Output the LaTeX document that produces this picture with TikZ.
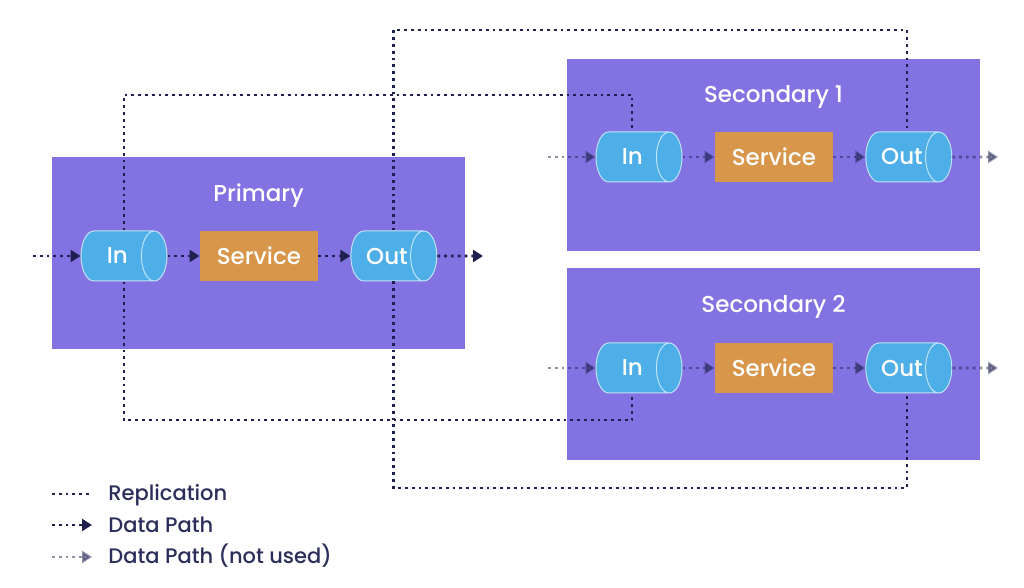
\documentclass[tikz,border=0pt]{standalone}
\usepackage{fontspec}
\setmainfont{Poppins Medium}
\usetikzlibrary{shapes.geometric,arrows.meta,positioning}
\definecolor{boxpurple}{RGB}{130,114,226}
\definecolor{cylblue}{RGB}{77,174,232}
\definecolor{svcorange}{RGB}{216,150,74}
\definecolor{navy}{RGB}{30,33,80}
\definecolor{legtext}{RGB}{43,46,90}

\begin{document}
\begin{tikzpicture}[x=0.5pt,y=-0.5pt,node distance=16pt,
  box/.style={fill=boxpurple,minimum width=206.5pt,minimum height=96pt,inner sep=0pt},
  lbl/.style={text=white,font=\fontsize{11.5}{13}\selectfont,anchor=base},
  cyl/.style={cylinder,aspect=1.6,draw=white!65!cylblue,line width=0.5pt,fill=cylblue,minimum height=43pt,minimum width=25pt,inner sep=0pt,text=white,font=\fontsize{11.5}{13}\selectfont},
  svc/.style={fill=svcorange,minimum width=59pt,minimum height=25pt,inner sep=0pt,text=white,font=\fontsize{11.5}{13}\selectfont},
  rep/.style={navy,line width=1.4pt,dash pattern=on 1.4pt off 2pt},
  dpath/.style={rep,-{Triangle[length=5pt,width=6pt]}},
  unused/.style={dpath,opacity=0.5},
  legtxt/.style={text=legtext,font=\fontsize{10.5}{13}\selectfont,anchor=base west,inner sep=0pt}]
\useasboundingbox (0,0) rectangle (1024,588);
% boxes
\node[box](P) at (258.5,253){};
\node[box](S1) at (773.5,155.5){};
\node[box](S2) at (773.5,364){};
\node[lbl] at (258.5,202){Primary};
\node[lbl] at (773.5,103){Secondary 1};
\node[lbl] at (773.5,313){Secondary 2};
% primary
\node[cyl,anchor=shape center](pin) at (124,256){In};
\node[svc](psvc)[right=of pin]{Service};
\node[cyl](pout)[right=of psvc]{Out};
% secondary 1
\node[cyl,anchor=shape center](s1in) at (639,157){In};
\node[svc](s1svc)[right=of s1in]{Service};
\node[cyl](s1out)[right=of s1svc]{Out};
% secondary 2
\node[cyl,anchor=shape center](s2in) at (639,368){In};
\node[svc](s2svc)[right=of s2in]{Service};
\node[cyl](s2out)[right=of s2svc]{Out};
% data path
\coordinate(pfrom) at (33,256);\coordinate(pto) at (483,256);
\draw[dpath](pfrom)--(pin);\draw[dpath](pin)--(psvc);\draw[dpath](psvc)--(pout);\draw[dpath](pout)--(pto);
\coordinate(s1from) at (548,157);\coordinate(s1to) at (998,157);
\draw[unused](s1from)--(s1in);\draw[unused](s1in)--(s1svc);\draw[unused](s1svc)--(s1out);\draw[unused](s1out)--(s1to);
\coordinate(s2from) at (548,368);\coordinate(s2to) at (998,368);
\draw[unused](s2from)--(s2in);\draw[unused](s2in)--(s2svc);\draw[unused](s2svc)--(s2out);\draw[unused](s2out)--(s2to);
% replication
\coordinate(r1) at (632,95);\coordinate(r2) at (632,420);
\coordinate(r3) at (907,30);\coordinate(r4) at (907,488);
\draw[rep](pin.shape center|-pin.north)|-(r1)--(r1|-s1in.north);
\draw[rep](pin.shape center|-pin.south)|-(r2)--(r2|-s2in.south);
\draw[rep](pout.shape center|-pout.north)|-(r3)--(r3|-s1out.north);
\draw[rep](pout.shape center|-pout.south)|-(r4)--(r4|-s2out.south);
% legend
\node[legtxt](L1) at (108,501){Replication};
\node[legtxt](L2) at (108,532){Data Path};
\node[legtxt](L3) at (108,564){Data Path (not used)};
\coordinate(l1) at (52,494);\coordinate(l2) at (52,525);\coordinate(l3) at (52,557);
\draw[rep](l1)--(l1-|92,0);
\draw[dpath](l2)--(l2-|92,0);
\draw[unused](l3)--(l3-|92,0);
\end{tikzpicture}
\end{document}
